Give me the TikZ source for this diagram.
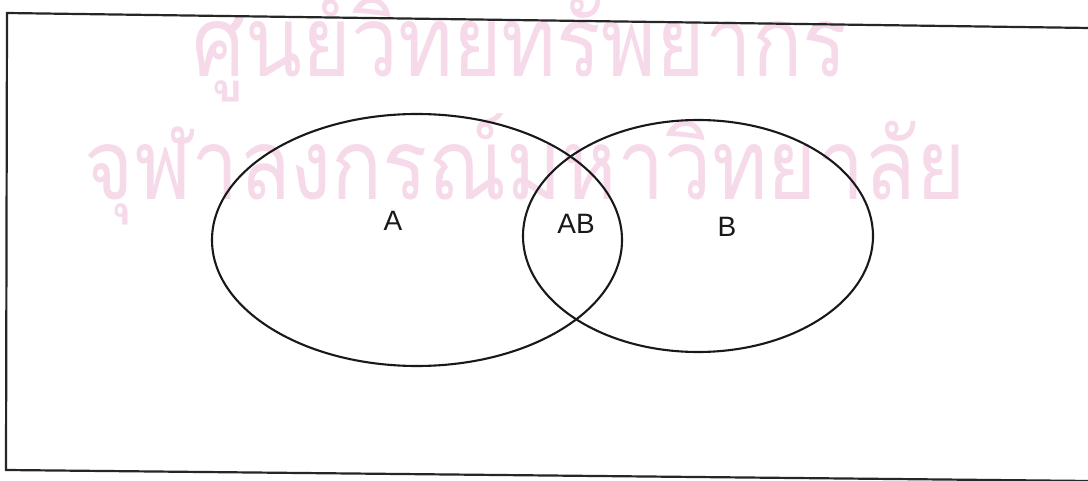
\documentclass[tikz,border=0pt]{standalone}
\usepackage{fontspec}
\setmainfont{Liberation Sans}
\newfontfamily\thaifont[Script=Thai]{Loma}
\definecolor{wmpink}{RGB}{246,218,234}
\begin{document}
\begin{tikzpicture}[x=1pt,y=-1pt,
  frame/.style={line width=2.2pt,draw=black!85},
  venn/.style={line width=2.1pt,draw=black!90},
  lbl/.style={font=\fontsize{28}{32}\selectfont,text=black!90,inner sep=0pt},
  wm/.style={font=\thaifont\fontsize{98}{110}\selectfont,text=wmpink,inner sep=0pt}]
\useasboundingbox (0,0) rectangle (1088,481);
\fill[white] (0,0) rectangle (1088,481);
% watermark
\node[wm,anchor=base] (wm1) at (520,77) {\scalebox{0.85}[1]{ศูนย์วิทยทรัพยากร}};
\node[wm,anchor=base] (wm2) at (525,200) {\scalebox{0.86}[1]{จุฬาลงกรณ์มหาวิทยาลัย}};
% frame
\coordinate (tr) at (1090,28);
\coordinate (tl) at (7,13);
\coordinate (bl) at (6,470);
\coordinate (br) at (1090,481);
\draw[frame] (tr) -- (tl) -- (bl) -- (br);
% ellipses
\draw[venn] (417,240) ellipse [x radius=205, y radius=126];
\draw[venn] (698,236) ellipse [x radius=175, y radius=116];
% labels
\node[lbl] (A) at (393,221) {A};
\node[lbl] (AB) at (576,224) {AB};
\node[lbl] (B) at (727,227) {B};
\end{tikzpicture}
\end{document}
